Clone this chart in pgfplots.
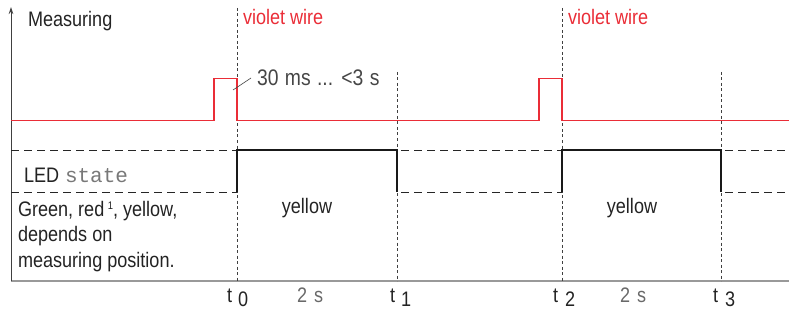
\documentclass[border=0pt]{standalone}
\usepackage{pgfplots}
\pgfplotsset{compat=1.18}
\usetikzlibrary{arrows.meta}
\usepackage{fontspec}
\setmainfont{Liberation Sans}[FakeStretch=0.86]
\newfontfamily\monof{Liberation Mono}
\definecolor{sigred}{RGB}{234,45,55}
\definecolor{txt}{RGB}{35,35,35}
\definecolor{gtxt}{RGB}{70,70,70}
\definecolor{ltxt}{RGB}{105,105,105}
\definecolor{mtxt}{RGB}{120,120,120}
\begin{document}
\begin{tikzpicture}
\begin{axis}[width=800pt, height=310pt, scale only axis,
  xmin=0, xmax=800, ymin=0, ymax=310, y dir=reverse,
  axis lines=none, clip=false,
  every axis plot/.append style={mark=none}]
% axes
\addplot[color=gray!80, line width=1.3pt] coordinates {(11,281) (789,281)};
\addplot[color=black!75, line width=0.9pt, -{Stealth[length=7pt,width=4.5pt]}] coordinates {(11,281) (11,7)};
% time markers
\addplot[color=black!75, line width=0.7pt, dash pattern=on 3pt off 2.5pt] coordinates {(237,8) (237,281)};
\addplot[color=black!75, line width=0.7pt, dash pattern=on 3pt off 2.5pt] coordinates {(397,72) (397,281)};
\addplot[color=black!75, line width=0.7pt, dash pattern=on 3pt off 2.5pt] coordinates {(562,8) (562,281)};
\addplot[color=black!75, line width=0.7pt, dash pattern=on 3pt off 2.5pt] coordinates {(721,72) (721,281)};
% red measuring signal
\addplot[color=sigred, line width=1.2pt] coordinates {(11,120.5) (214,120.5) (214,78.5) (237,78.5) (237,120.5) (539,120.5) (539,78.5) (562,78.5) (562,120.5) (789,120.5)};
% LED state dashed levels
\addplot[color=black!85, line width=0.9pt, dash pattern=on 8pt off 5pt] coordinates {(11,150) (237,150)};
\addplot[color=black!85, line width=0.9pt, dash pattern=on 8pt off 5pt] coordinates {(11,192) (237,192)};
\addplot[color=black!85, line width=0.9pt, dash pattern=on 8pt off 5pt] coordinates {(401,150) (562,150)};
\addplot[color=black!85, line width=0.9pt, dash pattern=on 8pt off 5pt] coordinates {(401,192) (562,192)};
\addplot[color=black!85, line width=0.9pt, dash pattern=on 8pt off 5pt] coordinates {(725,150) (789,150)};
\addplot[color=black!85, line width=0.9pt, dash pattern=on 8pt off 5pt] coordinates {(725,192) (789,192)};
% LED state solid
\addplot[color=black!90, line width=1.1pt] coordinates {(237,192) (237,150) (397,150) (397,192)};
\addplot[color=black!90, line width=1.1pt] coordinates {(562,192) (562,150) (721,150) (721,192)};
% leader line
\addplot[color=gtxt, line width=0.6pt] coordinates {(233,90) (251,78)};
% texts
\begin{scope}[every node/.style={inner sep=0pt, outer sep=0pt, anchor=base west, font=\fontsize{21}{25}\selectfont}]
\node[text=txt] at (axis cs:28,26.5) {Measuring};
\node[text=sigred] at (axis cs:243,25) {violet wire};
\node[text=sigred] at (axis cs:568,25) {violet wire};
\node[text=gtxt, font=\fontsize{22.5}{26}\selectfont] at (axis cs:257,86) {30\hspace{1pt} ms\hspace{1pt} ...\hspace{1pt} <3\hspace{1pt} s};
\node[text=txt] at (axis cs:24,182) {LED};
\node[text=mtxt, font=\fontsize{21}{24}\monof] at (axis cs:65,182) {state};
\node[text=txt] at (axis cs:18,216) {Green, red\,\raisebox{7pt}{\fontsize{11}{12}\selectfont 1}, yellow,};
\node[text=txt] at (axis cs:18,241.5) {depends on};
\node[text=txt] at (axis cs:18,267) {measuring position.};
\node[text=txt, anchor=base] at (axis cs:307,213) {yellow};
\node[text=txt, anchor=base] at (axis cs:632,213) {yellow};
\node[text=txt] at (axis cs:227,302) {t};
\node[text=txt] at (axis cs:238,306) {0};
\node[text=txt] at (axis cs:390,302) {t};
\node[text=txt] at (axis cs:401,306) {1};
\node[text=txt] at (axis cs:553,302) {t};
\node[text=txt] at (axis cs:565,306) {2};
\node[text=txt] at (axis cs:713,302) {t};
\node[text=txt] at (axis cs:725,306) {3};
\node[text=ltxt] at (axis cs:297,302) {2\,\,s};
\node[text=ltxt] at (axis cs:620,302) {2\,\,s};
\end{scope}
\end{axis}
\pgfresetboundingbox
\path[use as bounding box] (0,0) rectangle (800pt,310pt);
\end{tikzpicture}
\end{document}
